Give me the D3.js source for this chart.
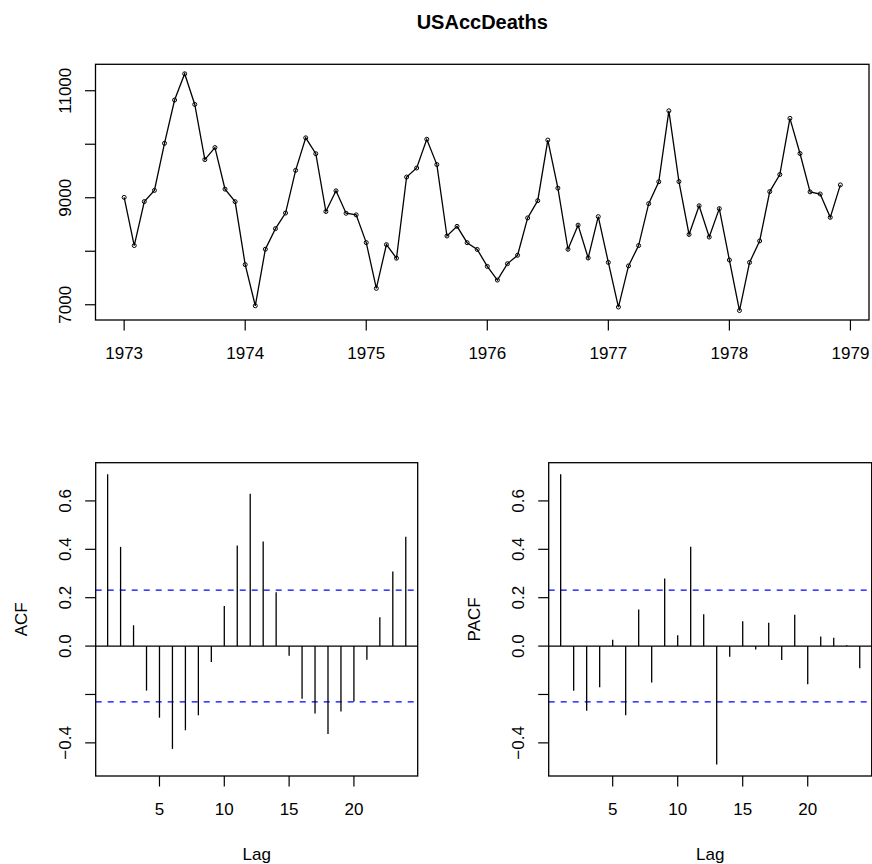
<!DOCTYPE html>
<html>
<head>
<meta charset="utf-8">
<script src="https://cdnjs.cloudflare.com/ajax/libs/d3/7.8.5/d3.min.js"></script>
<style>
  body { margin: 0; background: #fff; }
  svg text { font-family: "Liberation Sans", Arial, sans-serif; fill: #000; }
</style>
</head>
<body>
<div id="chart"></div>
<script>
// monthly accidental deaths, Jan 1973 .. Dec 1978
const deaths = [
  9007, 8106, 8928, 9137, 10017, 10826, 11317, 10744, 9713, 9938, 9161, 8927,
  7750, 6981, 8038, 8422, 8714, 9512, 10120, 9823, 8743, 9129, 8710, 8680,
  8162, 7306, 8124, 7870, 9387, 9556, 10093, 9620, 8285, 8466, 8160, 8034,
  7717, 7461, 7767, 7925, 8623, 8945, 10078, 9179, 8037, 8488, 7874, 8647,
  7792, 6957, 7726, 8106, 8890, 9299, 10625, 9302, 8314, 8850, 8265, 8796,
  7836, 6892, 7791, 8192, 9115, 9434, 10484, 9827, 9110, 9070, 8633, 9240
]
const startYear = 1973

// lags 1..24
const acfVals = [0.71, 0.41, 0.086, -0.184, -0.296, -0.425, -0.348, -0.286, -0.066, 0.166,
  0.416, 0.630, 0.432, 0.223, -0.040, -0.218, -0.279, -0.363, -0.270, -0.229,
  -0.056, 0.119, 0.308, 0.452]
const pacfVals = [0.71, -0.185, -0.267, -0.170, 0.026, -0.286, 0.151, -0.151, 0.279, 0.045,
  0.411, 0.132, -0.489, -0.044, 0.103, -0.014, 0.096, -0.058, 0.129, -0.158,
  0.040, 0.034, 0.003, -0.092]
const ciBound = 0.231

const yearTicks = [1973, 1974, 1975, 1976, 1977, 1978, 1979]
const deathTicks = [7000, 8000, 9000, 10000, 11000]
const deathLabels = ["7000", "", "9000", "", "11000"]
const lagTicks = [5, 10, 15, 20]
const corTicks = [-0.4, -0.2, 0.0, 0.2, 0.4, 0.6]
const corLabels = ["\u22120.4", "", "0.0", "0.2", "0.4", "0.6"]

const W = 872, H = 864
const fs = 17  // axis text size

const svg = d3.select("#chart").append("svg")
  .attr("width", W).attr("height", H)

// R style range padding (4% each side)
const padded = (lo, hi) => {
  const d = (hi - lo) * 0.04
  return [lo - d, hi + d]
}

const drawYAxis = (g, y, ticks, labels, left) => {
  ticks.forEach((t, i) => {
    g.append("line")
      .attr("x1", left).attr("x2", left - 10.5)
      .attr("y1", y(t)).attr("y2", y(t))
      .attr("stroke", "#000").attr("stroke-width", 1.2)
    if (labels[i]) {
      g.append("text")
        .attr("transform", `translate(${left - 25},${y(t)}) rotate(-90)`)
        .attr("text-anchor", "middle")
        .style("font-size", fs + "px")
        .text(labels[i])
    }
  })
}

const drawXAxis = (g, x, ticks, labels, bottom) => {
  ticks.forEach((t, i) => {
    g.append("line")
      .attr("x1", x(t)).attr("x2", x(t))
      .attr("y1", bottom).attr("y2", bottom + 10.5)
      .attr("stroke", "#000").attr("stroke-width", 1.2)
    g.append("text")
      .attr("x", x(t)).attr("y", bottom + 38.5)
      .attr("text-anchor", "middle")
      .style("font-size", fs + "px")
      .text(labels[i])
  })
}

const drawBox = (g, x0, y0, x1, y1) => {
  g.append("rect")
    .attr("x", x0).attr("y", y0)
    .attr("width", x1 - x0).attr("height", y1 - y0)
    .attr("fill", "none").attr("stroke", "#000").attr("stroke-width", 1.3)
}

// ---- top: time series ----
const tsBox = { left: 95.5, right: 869, top: 64.3, bottom: 320 }
const times = deaths.map((d, i) => startYear + i / 12)

const xTime = d3.scaleLinear()
  .domain(padded(d3.min(times), d3.max(times)))
  .range([tsBox.left, tsBox.right])
const yDeaths = d3.scaleLinear()
  .domain(padded(d3.min(deaths), d3.max(deaths)))
  .range([tsBox.bottom, tsBox.top])

const gTop = svg.append("g").attr("class", "ts-panel")

gTop.append("path")
  .datum(deaths)
  .attr("fill", "none").attr("stroke", "#000").attr("stroke-width", 1.3)
  .attr("d", d3.line().x((d, i) => xTime(times[i])).y(d => yDeaths(d)))

gTop.selectAll("circle")
  .data(deaths).enter()
  .append("circle")
  .attr("cx", (d, i) => xTime(times[i]))
  .attr("cy", d => yDeaths(d))
  .attr("r", 2)
  .attr("fill", "none").attr("stroke", "#000").attr("stroke-width", 1)

drawBox(gTop, tsBox.left, tsBox.top, tsBox.right, tsBox.bottom)
drawYAxis(gTop, yDeaths, deathTicks, deathLabels, tsBox.left)
drawXAxis(gTop, xTime, yearTicks, yearTicks.map(String), tsBox.bottom)

svg.append("text")
  .attr("x", (tsBox.left + tsBox.right) / 2).attr("y", 29.3)
  .attr("text-anchor", "middle")
  .style("font-size", "20px").style("font-weight", "bold")
  .text("USAccDeaths")

// ---- bottom: ACF & PACF ----
const lags = acfVals.map((d, i) => i + 1)
const corDomain = padded(d3.min(acfVals.concat(pacfVals)), d3.max(acfVals.concat(pacfVals)))
const corTop = 462.7, corBottom = 776

const corPanel = (vals, left, right, label, cls) => {
  const g = svg.append("g").attr("class", cls)
  const x = d3.scaleLinear().domain(padded(1, lags.length)).range([left, right])
  const y = d3.scaleLinear().domain(corDomain).range([corBottom, corTop])

  // significance bounds
  ;[ciBound, -ciBound].forEach(b => {
    g.append("line")
      .attr("x1", left).attr("x2", right)
      .attr("y1", y(b)).attr("y2", y(b))
      .attr("stroke", "#0000ff").attr("stroke-width", 1.3)
      .attr("stroke-dasharray", "6,6")
  })

  g.append("line")
    .attr("x1", left).attr("x2", right)
    .attr("y1", y(0)).attr("y2", y(0))
    .attr("stroke", "#000").attr("stroke-width", 1.3)

  g.selectAll(".spike")
    .data(vals).enter()
    .append("line")
    .attr("class", "spike")
    .attr("x1", (d, i) => x(lags[i])).attr("x2", (d, i) => x(lags[i]))
    .attr("y1", y(0)).attr("y2", d => y(d))
    .attr("stroke", "#000").attr("stroke-width", 1.3)

  drawBox(g, left, corTop, right, corBottom)
  drawYAxis(g, y, corTicks, corLabels, left)
  drawXAxis(g, x, lagTicks, lagTicks.map(String), corBottom)

  g.append("text")
    .attr("x", (left + right) / 2).attr("y", corBottom + 84)
    .attr("text-anchor", "middle")
    .style("font-size", fs + "px")
    .text("Lag")

  g.append("text")
    .attr("transform", `translate(${left - 68.5},${(corTop + corBottom) / 2}) rotate(-90)`)
    .attr("text-anchor", "middle")
    .style("font-size", fs + "px")
    .text(label)
}

corPanel(acfVals, 95.7, 417.7, "ACF", "acf-panel")
corPanel(pacfVals, 548.7, 871.7, "PACF", "pacf-panel")
</script>
</body>
</html>
